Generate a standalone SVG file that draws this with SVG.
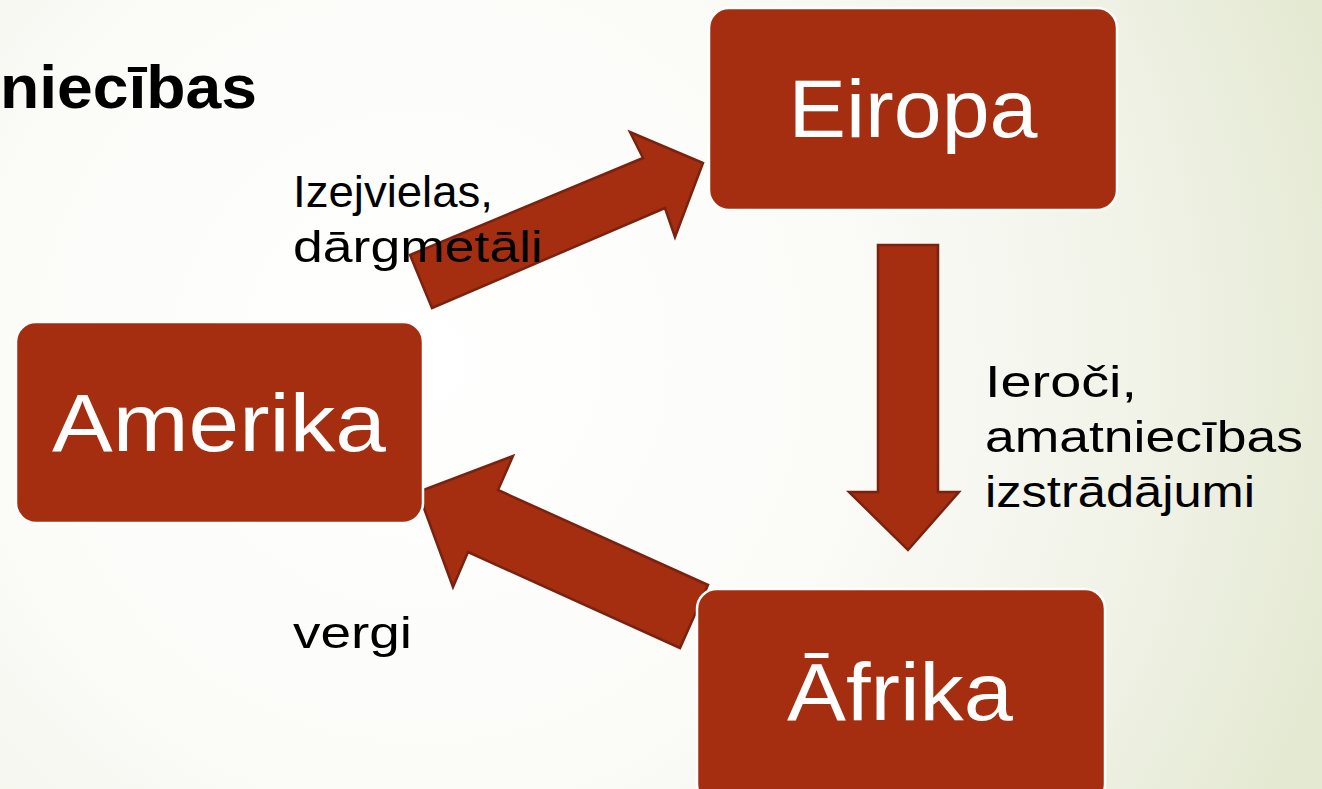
<svg xmlns="http://www.w3.org/2000/svg" width="1322" height="789" viewBox="0 0 1322 789">
  <defs>
    <radialGradient id="bg" cx="420" cy="360" r="960" gradientUnits="userSpaceOnUse">
      <stop offset="0" stop-color="#ffffff"/>
      <stop offset="0.45" stop-color="#fbfbf8"/>
      <stop offset="0.75" stop-color="#f1f3e8"/>
      <stop offset="1" stop-color="#e4e9d2"/>
    </radialGradient>
    <style>
      .box { fill: #a52e10; stroke: #ffffff; stroke-width: 2.5; }
      .arrow { fill: #a52e10; stroke: #7a2210; stroke-width: 2.5; stroke-linejoin: miter; }
      .node-text { font-family: "Liberation Sans", Arial, sans-serif; fill: #ffffff; font-size: 82px; }
      .label { font-family: "Liberation Sans", Arial, sans-serif; fill: #000000; font-size: 45px; }
      .title { font-family: "Liberation Sans", Arial, sans-serif; fill: #000000; font-size: 62px; font-weight: bold; }
    </style>
  </defs>
  <rect x="0" y="0" width="1322" height="789" fill="url(#bg)"/>

  <text class="title" x="0" y="108" textLength="257" lengthAdjust="spacingAndGlyphs">niecības</text>

  <g id="connectors">
    <polygon id="arrow-amerika-eiropa" class="arrow" points="432,308 410,255 643,158 630,132 703,163 675,237 665,208"/>
    <polygon id="arrow-eiropa-afrika" class="arrow" points="878,245 938,245 938,492 959,492 908,550 849,492 878,492"/>
    <polygon id="arrow-afrika-amerika" class="arrow" points="708,585 680,648 468,552 453,587 418,492 513,456 498,490"/>
  </g>

  <g id="node-eiropa">
    <rect class="box" x="709" y="8" width="408" height="202" rx="20" ry="20"/>
    <text class="node-text" x="913" y="137" text-anchor="middle" textLength="249" lengthAdjust="spacingAndGlyphs">Eiropa</text>
  </g>

  <g id="node-amerika">
    <rect class="box" x="16" y="322" width="407" height="201" rx="20" ry="20"/>
    <text class="node-text" x="219" y="451" text-anchor="middle" textLength="334" lengthAdjust="spacingAndGlyphs" font-size="84">Amerika</text>
  </g>

  <g id="node-afrika">
    <rect class="box" x="697" y="589" width="408" height="215" rx="20" ry="20"/>
    <text class="node-text" x="900" y="720" text-anchor="middle" textLength="226" lengthAdjust="spacingAndGlyphs">Āfrika</text>
  </g>

  <g id="labels">
    <text class="label" x="293" y="207" textLength="200" lengthAdjust="spacingAndGlyphs">Izejvielas,</text>
    <text class="label" x="293" y="262" textLength="250" lengthAdjust="spacingAndGlyphs">dārgmetāli</text>
    <text class="label" x="985" y="397" textLength="152" lengthAdjust="spacingAndGlyphs">Ieroči,</text>
    <text class="label" x="985" y="452" textLength="318" lengthAdjust="spacingAndGlyphs">amatniecības</text>
    <text class="label" x="985" y="507" textLength="270" lengthAdjust="spacingAndGlyphs">izstrādājumi</text>
    <text class="label" x="293" y="648" textLength="119" lengthAdjust="spacingAndGlyphs">vergi</text>
  </g>
</svg>
